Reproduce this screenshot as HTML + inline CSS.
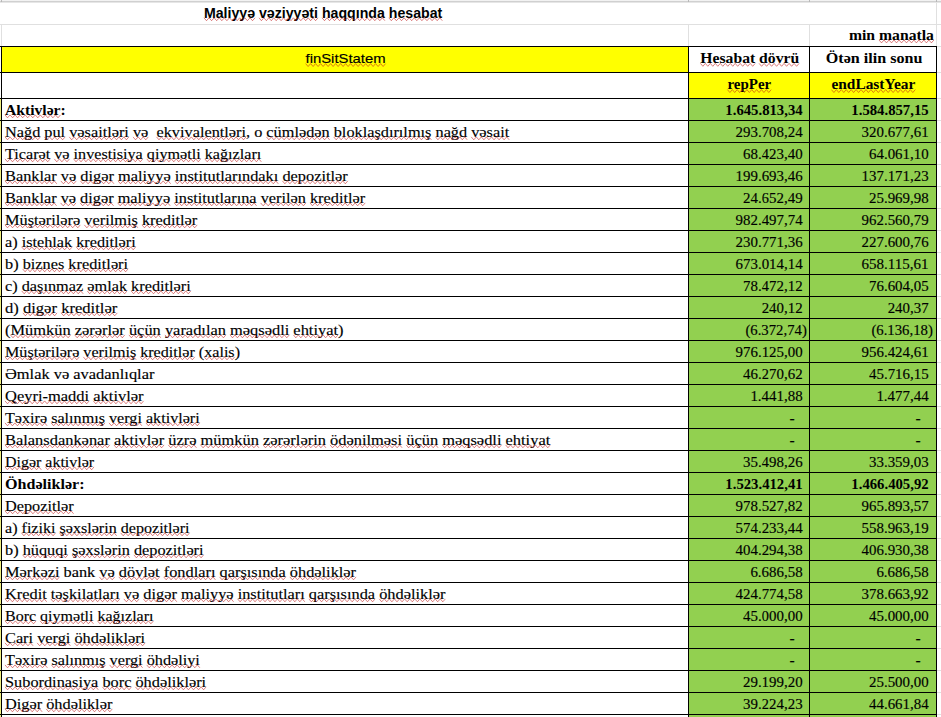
<!DOCTYPE html>
<html><head><meta charset="utf-8"><title>Maliyyə vəziyyəti haqqında hesabat</title>
<style>html,body{margin:0;padding:0;background:#fff;width:941px;height:717px;overflow:hidden} svg{display:block} text{shape-rendering:auto}</style>
</head><body>
<svg width="941" height="717" viewBox="0 0 941 717" shape-rendering="crispEdges"><rect x="0" y="0" width="941" height="1" fill="#f2f2f2"/><rect x="0" y="1" width="941" height="1" fill="#d0d0d0"/><rect x="0" y="2" width="941" height="1" fill="#e6e6e6"/><rect x="1" y="0" width="1" height="2" fill="#b8b8b8"/><rect x="688" y="0" width="1" height="2" fill="#b8b8b8"/><rect x="809" y="0" width="1" height="2" fill="#b8b8b8"/><rect x="936" y="0" width="1" height="2" fill="#b8b8b8"/><rect x="0" y="24" width="941" height="1" fill="#e0e0e0"/><rect x="1" y="25" width="1" height="21" fill="#e0e0e0"/><rect x="688" y="25" width="1" height="21" fill="#e0e0e0"/><rect x="809" y="25" width="1" height="21" fill="#e0e0e0"/><rect x="936" y="3" width="1" height="714" fill="#e0e0e0"/><rect x="937" y="46" width="4" height="1" fill="#e0e0e0"/><rect x="937" y="72" width="4" height="1" fill="#e0e0e0"/><rect x="937" y="98" width="4" height="1" fill="#e0e0e0"/><rect x="937" y="120" width="4" height="1" fill="#e0e0e0"/><rect x="937" y="142" width="4" height="1" fill="#e0e0e0"/><rect x="937" y="164" width="4" height="1" fill="#e0e0e0"/><rect x="937" y="186" width="4" height="1" fill="#e0e0e0"/><rect x="937" y="208" width="4" height="1" fill="#e0e0e0"/><rect x="937" y="230" width="4" height="1" fill="#e0e0e0"/><rect x="937" y="252" width="4" height="1" fill="#e0e0e0"/><rect x="937" y="274" width="4" height="1" fill="#e0e0e0"/><rect x="937" y="296" width="4" height="1" fill="#e0e0e0"/><rect x="937" y="318" width="4" height="1" fill="#e0e0e0"/><rect x="937" y="340" width="4" height="1" fill="#e0e0e0"/><rect x="937" y="362" width="4" height="1" fill="#e0e0e0"/><rect x="937" y="384" width="4" height="1" fill="#e0e0e0"/><rect x="937" y="406" width="4" height="1" fill="#e0e0e0"/><rect x="937" y="428" width="4" height="1" fill="#e0e0e0"/><rect x="937" y="450" width="4" height="1" fill="#e0e0e0"/><rect x="937" y="472" width="4" height="1" fill="#e0e0e0"/><rect x="937" y="494" width="4" height="1" fill="#e0e0e0"/><rect x="937" y="516" width="4" height="1" fill="#e0e0e0"/><rect x="937" y="538" width="4" height="1" fill="#e0e0e0"/><rect x="937" y="560" width="4" height="1" fill="#e0e0e0"/><rect x="937" y="582" width="4" height="1" fill="#e0e0e0"/><rect x="937" y="604" width="4" height="1" fill="#e0e0e0"/><rect x="937" y="626" width="4" height="1" fill="#e0e0e0"/><rect x="937" y="648" width="4" height="1" fill="#e0e0e0"/><rect x="937" y="670" width="4" height="1" fill="#e0e0e0"/><rect x="937" y="692" width="4" height="1" fill="#e0e0e0"/><rect x="937" y="714" width="4" height="1" fill="#e0e0e0"/><rect x="2" y="47" width="686" height="25" fill="#ffff00"/><rect x="689" y="73" width="120" height="25" fill="#ffff00"/><rect x="810" y="73" width="126" height="25" fill="#ffff00"/><rect x="689" y="99" width="120" height="618" fill="#92d050"/><rect x="810" y="99" width="126" height="618" fill="#92d050"/><rect x="0" y="99" width="1" height="618" fill="#f0f080"/><rect x="0" y="46" width="937" height="1" fill="#000"/><rect x="0" y="72" width="937" height="1" fill="#000"/><rect x="0" y="98" width="937" height="1" fill="#000"/><rect x="0" y="120" width="937" height="1" fill="#000"/><rect x="0" y="142" width="937" height="1" fill="#000"/><rect x="0" y="164" width="937" height="1" fill="#000"/><rect x="0" y="186" width="937" height="1" fill="#000"/><rect x="0" y="208" width="937" height="1" fill="#000"/><rect x="0" y="230" width="937" height="1" fill="#000"/><rect x="0" y="252" width="937" height="1" fill="#000"/><rect x="0" y="274" width="937" height="1" fill="#000"/><rect x="0" y="296" width="937" height="1" fill="#000"/><rect x="0" y="318" width="937" height="1" fill="#000"/><rect x="0" y="340" width="937" height="1" fill="#000"/><rect x="0" y="362" width="937" height="1" fill="#000"/><rect x="0" y="384" width="937" height="1" fill="#000"/><rect x="0" y="406" width="937" height="1" fill="#000"/><rect x="0" y="428" width="937" height="1" fill="#000"/><rect x="0" y="450" width="937" height="1" fill="#000"/><rect x="0" y="472" width="937" height="1" fill="#000"/><rect x="0" y="494" width="937" height="1" fill="#000"/><rect x="0" y="516" width="937" height="1" fill="#000"/><rect x="0" y="538" width="937" height="1" fill="#000"/><rect x="0" y="560" width="937" height="1" fill="#000"/><rect x="0" y="582" width="937" height="1" fill="#000"/><rect x="0" y="604" width="937" height="1" fill="#000"/><rect x="0" y="626" width="937" height="1" fill="#000"/><rect x="0" y="648" width="937" height="1" fill="#000"/><rect x="0" y="670" width="937" height="1" fill="#000"/><rect x="0" y="692" width="937" height="1" fill="#000"/><rect x="0" y="714" width="937" height="1" fill="#000"/><rect x="1" y="46" width="1" height="671" fill="#000"/><rect x="688" y="46" width="1" height="671" fill="#000"/><rect x="809" y="46" width="1" height="671" fill="#000"/><rect x="936" y="46" width="1" height="671" fill="#000"/><text id="h0" x="203.92" y="17.50" font-family='"Liberation Sans",sans-serif' font-size="14.0" font-weight="bold" textLength="238.36" lengthAdjust="spacingAndGlyphs" fill="#000" xml:space="preserve">Maliyyə vəziyyəti haqqında hesabat</text><text id="h1" x="848.94" y="39.70" font-family='"Liberation Serif",serif' font-size="14.0" font-weight="bold" textLength="84.98" lengthAdjust="spacingAndGlyphs" fill="#000" xml:space="preserve">min manatla</text><text id="h2" x="305.56" y="63.30" font-family='"Liberation Sans",sans-serif' font-size="13.5" textLength="80.00" lengthAdjust="spacingAndGlyphs" fill="#000" stroke="#000" stroke-width="0.15" xml:space="preserve">finSitStatem</text><text id="h3" x="700.36" y="63.10" font-family='"Liberation Serif",serif' font-size="14.0" font-weight="bold" textLength="98.78" lengthAdjust="spacingAndGlyphs" fill="#000" xml:space="preserve">Hesabat dövrü</text><text id="h4" x="825.84" y="63.20" font-family='"Liberation Serif",serif' font-size="14.0" font-weight="bold" textLength="96.66" lengthAdjust="spacingAndGlyphs" fill="#000" xml:space="preserve">Ötən ilin sonu</text><text id="h5" x="727.42" y="89.30" font-family='"Liberation Serif",serif' font-size="14.0" font-weight="bold" textLength="43.80" lengthAdjust="spacingAndGlyphs" fill="#000" xml:space="preserve">repPer</text><text id="h6" x="831.44" y="89.30" font-family='"Liberation Serif",serif' font-size="14.0" font-weight="bold" textLength="83.84" lengthAdjust="spacingAndGlyphs" fill="#000" xml:space="preserve">endLastYear</text><text id="l0" x="5.00" y="114.60" font-family='"Liberation Serif",serif' font-size="15.0" font-weight="bold" textLength="60.71" lengthAdjust="spacingAndGlyphs" fill="#000" xml:space="preserve">Aktivlər:</text><text x="802.60" y="114.60" font-family='"Liberation Serif",serif' font-size="14.0" font-weight="bold" text-anchor="end" textLength="77.25" lengthAdjust="spacingAndGlyphs" fill="#000" xml:space="preserve">1.645.813,34</text><text x="928.60" y="114.60" font-family='"Liberation Serif",serif' font-size="14.0" font-weight="bold" text-anchor="end" textLength="77.25" lengthAdjust="spacingAndGlyphs" fill="#000" xml:space="preserve">1.584.857,15</text><text id="l1" x="5.00" y="136.60" font-family='"Liberation Serif",serif' font-size="15.0" textLength="504.21" lengthAdjust="spacingAndGlyphs" fill="#000" stroke="#000" stroke-width="0.15" xml:space="preserve">Nağd pul vəsaitləri və  ekvivalentləri, o cümlədən bloklaşdırılmış nağd vəsait</text><text x="802.60" y="136.60" font-family='"Liberation Serif",serif' font-size="14.0" text-anchor="end" textLength="67.00" lengthAdjust="spacingAndGlyphs" fill="#000" stroke="#000" stroke-width="0.15" xml:space="preserve">293.708,24</text><text x="928.60" y="136.60" font-family='"Liberation Serif",serif' font-size="14.0" text-anchor="end" textLength="67.00" lengthAdjust="spacingAndGlyphs" fill="#000" stroke="#000" stroke-width="0.15" xml:space="preserve">320.677,61</text><text id="l2" x="5.00" y="158.60" font-family='"Liberation Serif",serif' font-size="15.0" textLength="256.34" lengthAdjust="spacingAndGlyphs" fill="#000" stroke="#000" stroke-width="0.15" xml:space="preserve">Ticarət və investisiya qiymətli kağızları</text><text x="802.60" y="158.60" font-family='"Liberation Serif",serif' font-size="14.0" text-anchor="end" textLength="59.60" lengthAdjust="spacingAndGlyphs" fill="#000" stroke="#000" stroke-width="0.15" xml:space="preserve">68.423,40</text><text x="928.60" y="158.60" font-family='"Liberation Serif",serif' font-size="14.0" text-anchor="end" textLength="59.60" lengthAdjust="spacingAndGlyphs" fill="#000" stroke="#000" stroke-width="0.15" xml:space="preserve">64.061,10</text><text id="l3" x="5.00" y="180.60" font-family='"Liberation Serif",serif' font-size="15.0" textLength="342.77" lengthAdjust="spacingAndGlyphs" fill="#000" stroke="#000" stroke-width="0.15" xml:space="preserve">Banklar və digər maliyyə institutlarındakı depozitlər</text><text x="802.60" y="180.60" font-family='"Liberation Serif",serif' font-size="14.0" text-anchor="end" textLength="67.00" lengthAdjust="spacingAndGlyphs" fill="#000" stroke="#000" stroke-width="0.15" xml:space="preserve">199.693,46</text><text x="928.60" y="180.60" font-family='"Liberation Serif",serif' font-size="14.0" text-anchor="end" textLength="67.00" lengthAdjust="spacingAndGlyphs" fill="#000" stroke="#000" stroke-width="0.15" xml:space="preserve">137.171,23</text><text id="l4" x="5.00" y="202.60" font-family='"Liberation Serif",serif' font-size="15.0" textLength="360.17" lengthAdjust="spacingAndGlyphs" fill="#000" stroke="#000" stroke-width="0.15" xml:space="preserve">Banklar və digər maliyyə institutlarına verilən kreditlər</text><text x="802.60" y="202.60" font-family='"Liberation Serif",serif' font-size="14.0" text-anchor="end" textLength="59.60" lengthAdjust="spacingAndGlyphs" fill="#000" stroke="#000" stroke-width="0.15" xml:space="preserve">24.652,49</text><text x="928.60" y="202.60" font-family='"Liberation Serif",serif' font-size="14.0" text-anchor="end" textLength="59.60" lengthAdjust="spacingAndGlyphs" fill="#000" stroke="#000" stroke-width="0.15" xml:space="preserve">25.969,98</text><text id="l5" x="5.00" y="224.60" font-family='"Liberation Serif",serif' font-size="15.0" textLength="192.25" lengthAdjust="spacingAndGlyphs" fill="#000" stroke="#000" stroke-width="0.15" xml:space="preserve">Müştərilərə verilmiş kreditlər</text><text x="802.60" y="224.60" font-family='"Liberation Serif",serif' font-size="14.0" text-anchor="end" textLength="67.00" lengthAdjust="spacingAndGlyphs" fill="#000" stroke="#000" stroke-width="0.15" xml:space="preserve">982.497,74</text><text x="928.60" y="224.60" font-family='"Liberation Serif",serif' font-size="14.0" text-anchor="end" textLength="67.00" lengthAdjust="spacingAndGlyphs" fill="#000" stroke="#000" stroke-width="0.15" xml:space="preserve">962.560,79</text><text id="l6" x="5.00" y="246.60" font-family='"Liberation Serif",serif' font-size="15.0" textLength="130.72" lengthAdjust="spacingAndGlyphs" fill="#000" stroke="#000" stroke-width="0.15" xml:space="preserve">a) istehlak kreditləri</text><text x="802.60" y="246.60" font-family='"Liberation Serif",serif' font-size="14.0" text-anchor="end" textLength="67.00" lengthAdjust="spacingAndGlyphs" fill="#000" stroke="#000" stroke-width="0.15" xml:space="preserve">230.771,36</text><text x="928.60" y="246.60" font-family='"Liberation Serif",serif' font-size="14.0" text-anchor="end" textLength="67.00" lengthAdjust="spacingAndGlyphs" fill="#000" stroke="#000" stroke-width="0.15" xml:space="preserve">227.600,76</text><text id="l7" x="5.00" y="268.60" font-family='"Liberation Serif",serif' font-size="15.0" textLength="123.07" lengthAdjust="spacingAndGlyphs" fill="#000" stroke="#000" stroke-width="0.15" xml:space="preserve">b) biznes kreditləri</text><text x="802.60" y="268.60" font-family='"Liberation Serif",serif' font-size="14.0" text-anchor="end" textLength="67.00" lengthAdjust="spacingAndGlyphs" fill="#000" stroke="#000" stroke-width="0.15" xml:space="preserve">673.014,14</text><text x="928.60" y="268.60" font-family='"Liberation Serif",serif' font-size="14.0" text-anchor="end" textLength="67.00" lengthAdjust="spacingAndGlyphs" fill="#000" stroke="#000" stroke-width="0.15" xml:space="preserve">658.115,61</text><text id="l8" x="5.00" y="290.60" font-family='"Liberation Serif",serif' font-size="15.0" textLength="185.78" lengthAdjust="spacingAndGlyphs" fill="#000" stroke="#000" stroke-width="0.15" xml:space="preserve">c) daşınmaz əmlak kreditləri</text><text x="802.60" y="290.60" font-family='"Liberation Serif",serif' font-size="14.0" text-anchor="end" textLength="59.60" lengthAdjust="spacingAndGlyphs" fill="#000" stroke="#000" stroke-width="0.15" xml:space="preserve">78.472,12</text><text x="928.60" y="290.60" font-family='"Liberation Serif",serif' font-size="14.0" text-anchor="end" textLength="59.60" lengthAdjust="spacingAndGlyphs" fill="#000" stroke="#000" stroke-width="0.15" xml:space="preserve">76.604,05</text><text id="l9" x="5.00" y="312.60" font-family='"Liberation Serif",serif' font-size="15.0" textLength="112.27" lengthAdjust="spacingAndGlyphs" fill="#000" stroke="#000" stroke-width="0.15" xml:space="preserve">d) digər kreditlər</text><text x="802.60" y="312.60" font-family='"Liberation Serif",serif' font-size="14.0" text-anchor="end" textLength="40.90" lengthAdjust="spacingAndGlyphs" fill="#000" stroke="#000" stroke-width="0.15" xml:space="preserve">240,12</text><text x="928.60" y="312.60" font-family='"Liberation Serif",serif' font-size="14.0" text-anchor="end" textLength="40.90" lengthAdjust="spacingAndGlyphs" fill="#000" stroke="#000" stroke-width="0.15" xml:space="preserve">240,37</text><text id="l10" x="5.00" y="334.60" font-family='"Liberation Serif",serif' font-size="15.0" textLength="338.48" lengthAdjust="spacingAndGlyphs" fill="#000" stroke="#000" stroke-width="0.15" xml:space="preserve">(Mümkün zərərlər üçün yaradılan məqsədli ehtiyat)</text><text x="806.80" y="334.60" font-family='"Liberation Serif",serif' font-size="14.0" text-anchor="end" textLength="61.40" lengthAdjust="spacingAndGlyphs" fill="#000" stroke="#000" stroke-width="0.15" xml:space="preserve">(6.372,74)</text><text x="932.80" y="334.60" font-family='"Liberation Serif",serif' font-size="14.0" text-anchor="end" textLength="61.40" lengthAdjust="spacingAndGlyphs" fill="#000" stroke="#000" stroke-width="0.15" xml:space="preserve">(6.136,18)</text><text id="l11" x="5.00" y="356.60" font-family='"Liberation Serif",serif' font-size="15.0" textLength="235.02" lengthAdjust="spacingAndGlyphs" fill="#000" stroke="#000" stroke-width="0.15" xml:space="preserve">Müştərilərə verilmiş kreditlər (xalis)</text><text x="802.60" y="356.60" font-family='"Liberation Serif",serif' font-size="14.0" text-anchor="end" textLength="67.00" lengthAdjust="spacingAndGlyphs" fill="#000" stroke="#000" stroke-width="0.15" xml:space="preserve">976.125,00</text><text x="928.60" y="356.60" font-family='"Liberation Serif",serif' font-size="14.0" text-anchor="end" textLength="67.00" lengthAdjust="spacingAndGlyphs" fill="#000" stroke="#000" stroke-width="0.15" xml:space="preserve">956.424,61</text><text id="l12" x="5.00" y="378.60" font-family='"Liberation Serif",serif' font-size="15.0" textLength="149.40" lengthAdjust="spacingAndGlyphs" fill="#000" stroke="#000" stroke-width="0.15" xml:space="preserve">Əmlak və avadanlıqlar</text><text x="802.60" y="378.60" font-family='"Liberation Serif",serif' font-size="14.0" text-anchor="end" textLength="59.60" lengthAdjust="spacingAndGlyphs" fill="#000" stroke="#000" stroke-width="0.15" xml:space="preserve">46.270,62</text><text x="928.60" y="378.60" font-family='"Liberation Serif",serif' font-size="14.0" text-anchor="end" textLength="59.60" lengthAdjust="spacingAndGlyphs" fill="#000" stroke="#000" stroke-width="0.15" xml:space="preserve">45.716,15</text><text id="l13" x="5.00" y="400.60" font-family='"Liberation Serif",serif' font-size="15.0" textLength="138.60" lengthAdjust="spacingAndGlyphs" fill="#000" stroke="#000" stroke-width="0.15" xml:space="preserve">Qeyri-maddi aktivlər</text><text x="802.60" y="400.60" font-family='"Liberation Serif",serif' font-size="14.0" text-anchor="end" textLength="52.20" lengthAdjust="spacingAndGlyphs" fill="#000" stroke="#000" stroke-width="0.15" xml:space="preserve">1.441,88</text><text x="928.60" y="400.60" font-family='"Liberation Serif",serif' font-size="14.0" text-anchor="end" textLength="52.20" lengthAdjust="spacingAndGlyphs" fill="#000" stroke="#000" stroke-width="0.15" xml:space="preserve">1.477,44</text><text id="l14" x="5.00" y="422.60" font-family='"Liberation Serif",serif' font-size="15.0" textLength="194.74" lengthAdjust="spacingAndGlyphs" fill="#000" stroke="#000" stroke-width="0.15" xml:space="preserve">Təxirə salınmış vergi aktivləri</text><text x="794.60" y="423.30" font-family='"Liberation Serif",serif' font-size="14.0" text-anchor="end" textLength="5.20" lengthAdjust="spacingAndGlyphs" fill="#000" stroke="#000" stroke-width="0.15" xml:space="preserve">-</text><text x="920.60" y="423.30" font-family='"Liberation Serif",serif' font-size="14.0" text-anchor="end" textLength="5.20" lengthAdjust="spacingAndGlyphs" fill="#000" stroke="#000" stroke-width="0.15" xml:space="preserve">-</text><text id="l15" x="5.00" y="444.60" font-family='"Liberation Serif",serif' font-size="15.0" textLength="545.26" lengthAdjust="spacingAndGlyphs" fill="#000" stroke="#000" stroke-width="0.15" xml:space="preserve">Balansdankənar aktivlər üzrə mümkün zərərlərin ödənilməsi üçün məqsədli ehtiyat</text><text x="794.60" y="445.30" font-family='"Liberation Serif",serif' font-size="14.0" text-anchor="end" textLength="5.20" lengthAdjust="spacingAndGlyphs" fill="#000" stroke="#000" stroke-width="0.15" xml:space="preserve">-</text><text x="920.60" y="445.30" font-family='"Liberation Serif",serif' font-size="14.0" text-anchor="end" textLength="5.20" lengthAdjust="spacingAndGlyphs" fill="#000" stroke="#000" stroke-width="0.15" xml:space="preserve">-</text><text id="l16" x="5.00" y="466.60" font-family='"Liberation Serif",serif' font-size="15.0" textLength="89.05" lengthAdjust="spacingAndGlyphs" fill="#000" stroke="#000" stroke-width="0.15" xml:space="preserve">Digər aktivlər</text><text x="802.60" y="466.60" font-family='"Liberation Serif",serif' font-size="14.0" text-anchor="end" textLength="59.60" lengthAdjust="spacingAndGlyphs" fill="#000" stroke="#000" stroke-width="0.15" xml:space="preserve">35.498,26</text><text x="928.60" y="466.60" font-family='"Liberation Serif",serif' font-size="14.0" text-anchor="end" textLength="59.60" lengthAdjust="spacingAndGlyphs" fill="#000" stroke="#000" stroke-width="0.15" xml:space="preserve">33.359,03</text><text id="l17" x="5.00" y="488.60" font-family='"Liberation Serif",serif' font-size="15.0" font-weight="bold" textLength="79.56" lengthAdjust="spacingAndGlyphs" fill="#000" xml:space="preserve">Öhdəliklər:</text><text x="802.60" y="488.60" font-family='"Liberation Serif",serif' font-size="14.0" font-weight="bold" text-anchor="end" textLength="77.25" lengthAdjust="spacingAndGlyphs" fill="#000" xml:space="preserve">1.523.412,41</text><text x="928.60" y="488.60" font-family='"Liberation Serif",serif' font-size="14.0" font-weight="bold" text-anchor="end" textLength="77.25" lengthAdjust="spacingAndGlyphs" fill="#000" xml:space="preserve">1.466.405,92</text><text id="l18" x="5.00" y="510.60" font-family='"Liberation Serif",serif' font-size="15.0" textLength="68.60" lengthAdjust="spacingAndGlyphs" fill="#000" stroke="#000" stroke-width="0.15" xml:space="preserve">Depozitlər</text><text x="802.60" y="510.60" font-family='"Liberation Serif",serif' font-size="14.0" text-anchor="end" textLength="67.00" lengthAdjust="spacingAndGlyphs" fill="#000" stroke="#000" stroke-width="0.15" xml:space="preserve">978.527,82</text><text x="928.60" y="510.60" font-family='"Liberation Serif",serif' font-size="14.0" text-anchor="end" textLength="67.00" lengthAdjust="spacingAndGlyphs" fill="#000" stroke="#000" stroke-width="0.15" xml:space="preserve">965.893,57</text><text id="l19" x="5.00" y="532.60" font-family='"Liberation Serif",serif' font-size="15.0" textLength="184.52" lengthAdjust="spacingAndGlyphs" fill="#000" stroke="#000" stroke-width="0.15" xml:space="preserve">a) fiziki şəxslərin depozitləri</text><text x="802.60" y="532.60" font-family='"Liberation Serif",serif' font-size="14.0" text-anchor="end" textLength="67.00" lengthAdjust="spacingAndGlyphs" fill="#000" stroke="#000" stroke-width="0.15" xml:space="preserve">574.233,44</text><text x="928.60" y="532.60" font-family='"Liberation Serif",serif' font-size="14.0" text-anchor="end" textLength="67.00" lengthAdjust="spacingAndGlyphs" fill="#000" stroke="#000" stroke-width="0.15" xml:space="preserve">558.963,19</text><text id="l20" x="5.00" y="554.60" font-family='"Liberation Serif",serif' font-size="15.0" textLength="198.56" lengthAdjust="spacingAndGlyphs" fill="#000" stroke="#000" stroke-width="0.15" xml:space="preserve">b) hüquqi şəxslərin depozitləri</text><text x="802.60" y="554.60" font-family='"Liberation Serif",serif' font-size="14.0" text-anchor="end" textLength="67.00" lengthAdjust="spacingAndGlyphs" fill="#000" stroke="#000" stroke-width="0.15" xml:space="preserve">404.294,38</text><text x="928.60" y="554.60" font-family='"Liberation Serif",serif' font-size="14.0" text-anchor="end" textLength="67.00" lengthAdjust="spacingAndGlyphs" fill="#000" stroke="#000" stroke-width="0.15" xml:space="preserve">406.930,38</text><text id="l21" x="5.00" y="576.60" font-family='"Liberation Serif",serif' font-size="15.0" textLength="351.06" lengthAdjust="spacingAndGlyphs" fill="#000" stroke="#000" stroke-width="0.15" xml:space="preserve">Mərkəzi bank və dövlət fondları qarşısında öhdəliklər</text><text x="802.60" y="576.60" font-family='"Liberation Serif",serif' font-size="14.0" text-anchor="end" textLength="52.20" lengthAdjust="spacingAndGlyphs" fill="#000" stroke="#000" stroke-width="0.15" xml:space="preserve">6.686,58</text><text x="928.60" y="576.60" font-family='"Liberation Serif",serif' font-size="14.0" text-anchor="end" textLength="52.20" lengthAdjust="spacingAndGlyphs" fill="#000" stroke="#000" stroke-width="0.15" xml:space="preserve">6.686,58</text><text id="l22" x="5.00" y="598.60" font-family='"Liberation Serif",serif' font-size="15.0" textLength="440.39" lengthAdjust="spacingAndGlyphs" fill="#000" stroke="#000" stroke-width="0.15" xml:space="preserve">Kredit təşkilatları və digər maliyyə institutları qarşısında öhdəliklər</text><text x="802.60" y="598.60" font-family='"Liberation Serif",serif' font-size="14.0" text-anchor="end" textLength="67.00" lengthAdjust="spacingAndGlyphs" fill="#000" stroke="#000" stroke-width="0.15" xml:space="preserve">424.774,58</text><text x="928.60" y="598.60" font-family='"Liberation Serif",serif' font-size="14.0" text-anchor="end" textLength="67.00" lengthAdjust="spacingAndGlyphs" fill="#000" stroke="#000" stroke-width="0.15" xml:space="preserve">378.663,92</text><text id="l23" x="5.00" y="620.60" font-family='"Liberation Serif",serif' font-size="15.0" textLength="148.48" lengthAdjust="spacingAndGlyphs" fill="#000" stroke="#000" stroke-width="0.15" xml:space="preserve">Borc qiymətli kağızları</text><text x="802.60" y="620.60" font-family='"Liberation Serif",serif' font-size="14.0" text-anchor="end" textLength="59.60" lengthAdjust="spacingAndGlyphs" fill="#000" stroke="#000" stroke-width="0.15" xml:space="preserve">45.000,00</text><text x="928.60" y="620.60" font-family='"Liberation Serif",serif' font-size="14.0" text-anchor="end" textLength="59.60" lengthAdjust="spacingAndGlyphs" fill="#000" stroke="#000" stroke-width="0.15" xml:space="preserve">45.000,00</text><text id="l24" x="5.00" y="642.60" font-family='"Liberation Serif",serif' font-size="15.0" textLength="140.13" lengthAdjust="spacingAndGlyphs" fill="#000" stroke="#000" stroke-width="0.15" xml:space="preserve">Cari vergi öhdəlikləri</text><text x="794.60" y="643.30" font-family='"Liberation Serif",serif' font-size="14.0" text-anchor="end" textLength="5.20" lengthAdjust="spacingAndGlyphs" fill="#000" stroke="#000" stroke-width="0.15" xml:space="preserve">-</text><text x="920.60" y="643.30" font-family='"Liberation Serif",serif' font-size="14.0" text-anchor="end" textLength="5.20" lengthAdjust="spacingAndGlyphs" fill="#000" stroke="#000" stroke-width="0.15" xml:space="preserve">-</text><text id="l25" x="5.00" y="664.60" font-family='"Liberation Serif",serif' font-size="15.0" textLength="194.86" lengthAdjust="spacingAndGlyphs" fill="#000" stroke="#000" stroke-width="0.15" xml:space="preserve">Təxirə salınmış vergi öhdəliyi</text><text x="794.60" y="665.30" font-family='"Liberation Serif",serif' font-size="14.0" text-anchor="end" textLength="5.20" lengthAdjust="spacingAndGlyphs" fill="#000" stroke="#000" stroke-width="0.15" xml:space="preserve">-</text><text x="920.60" y="665.30" font-family='"Liberation Serif",serif' font-size="14.0" text-anchor="end" textLength="5.20" lengthAdjust="spacingAndGlyphs" fill="#000" stroke="#000" stroke-width="0.15" xml:space="preserve">-</text><text id="l26" x="5.00" y="686.60" font-family='"Liberation Serif",serif' font-size="15.0" textLength="201.12" lengthAdjust="spacingAndGlyphs" fill="#000" stroke="#000" stroke-width="0.15" xml:space="preserve">Subordinasiya borc öhdəlikləri</text><text x="802.60" y="686.60" font-family='"Liberation Serif",serif' font-size="14.0" text-anchor="end" textLength="59.60" lengthAdjust="spacingAndGlyphs" fill="#000" stroke="#000" stroke-width="0.15" xml:space="preserve">29.199,20</text><text x="928.60" y="686.60" font-family='"Liberation Serif",serif' font-size="14.0" text-anchor="end" textLength="59.60" lengthAdjust="spacingAndGlyphs" fill="#000" stroke="#000" stroke-width="0.15" xml:space="preserve">25.500,00</text><text id="l27" x="5.00" y="708.60" font-family='"Liberation Serif",serif' font-size="15.0" textLength="107.32" lengthAdjust="spacingAndGlyphs" fill="#000" stroke="#000" stroke-width="0.15" xml:space="preserve">Digər öhdəliklər</text><text x="802.60" y="708.60" font-family='"Liberation Serif",serif' font-size="14.0" text-anchor="end" textLength="59.60" lengthAdjust="spacingAndGlyphs" fill="#000" stroke="#000" stroke-width="0.15" xml:space="preserve">39.224,23</text><text x="928.60" y="708.60" font-family='"Liberation Serif",serif' font-size="14.0" text-anchor="end" textLength="59.60" lengthAdjust="spacingAndGlyphs" fill="#000" stroke="#000" stroke-width="0.15" xml:space="preserve">44.661,84</text><g fill="none" stroke="#c01818" stroke-width="0.9" stroke-opacity="0.6" shape-rendering="auto"><polyline points="203.9,17.8 206.5,20.7 209.0,17.8 211.6,20.7 214.1,17.8 216.7,20.7 219.3,17.8 221.8,20.7 224.4,17.8 226.9,20.7 229.5,17.8 232.1,20.7 234.6,17.8 237.2,20.7 239.7,17.8 242.3,20.7 244.8,17.8 247.4,20.7 250.0,17.8 252.5,20.7 255.1,17.8"/><polyline points="259.0,17.8 261.4,20.7 263.9,17.8 266.4,20.7 268.8,17.8 271.3,20.7 273.7,17.8 276.2,20.7 278.7,17.8 281.1,20.7 283.6,17.8 286.0,20.7 288.5,17.8 291.0,20.7 293.4,17.8 295.9,20.7 298.3,17.8 300.8,20.7 303.3,17.8 305.7,20.7 308.2,17.8 310.6,20.7 313.1,17.8 315.6,20.7 318.0,17.8"/><polyline points="321.9,17.8 324.5,20.7 327.0,17.8 329.5,20.7 332.0,17.8 334.5,20.7 337.0,17.8 339.6,20.7 342.1,17.8 344.6,20.7 347.1,17.8 349.6,20.7 352.1,17.8 354.7,20.7 357.2,17.8 359.7,20.7 362.2,17.8 364.7,20.7 367.2,17.8 369.8,20.7 372.3,17.8 374.8,20.7 377.3,17.8 379.8,20.7 382.3,17.8 384.9,20.7"/><polyline points="388.8,17.8 391.3,20.7 393.9,17.8 396.4,20.7 399.0,17.8 401.5,20.7 404.1,17.8 406.6,20.7 409.2,17.8 411.7,20.7 414.3,17.8 416.8,20.7 419.4,17.8 421.9,20.7 424.4,17.8 427.0,20.7 429.5,17.8 432.1,20.7 434.6,17.8 437.2,20.7 439.7,17.8 442.3,20.7"/><polyline points="879.0,40.0 881.5,42.9 884.0,40.0 886.5,42.9 889.0,40.0 891.5,42.9 894.0,40.0 896.5,42.9 899.0,40.0 901.5,42.9 904.0,40.0 906.5,42.9 909.0,40.0 911.5,42.9 913.9,40.0 916.4,42.9 918.9,40.0 921.4,42.9 923.9,40.0 926.4,42.9 928.9,40.0 931.4,42.9 933.9,40.0"/><polyline points="305.6,63.6 308.1,66.5 310.6,63.6 313.1,66.5 315.6,63.6 318.1,66.5 320.6,63.6 323.1,66.5 325.6,63.6 328.1,66.5 330.6,63.6 333.1,66.5 335.6,63.6 338.1,66.5 340.6,63.6 343.1,66.5 345.6,63.6 348.1,66.5 350.6,63.6 353.1,66.5 355.6,63.6 358.1,66.5 360.6,63.6 363.1,66.5 365.6,63.6 368.1,66.5 370.6,63.6 373.1,66.5 375.6,63.6 378.1,66.5 380.6,63.6 383.1,66.5 385.6,63.6"/><polyline points="700.4,63.4 702.9,66.3 705.3,63.4 707.8,66.3 710.3,63.4 712.8,66.3 715.3,63.4 717.8,66.3 720.3,63.4 722.8,66.3 725.3,63.4 727.8,66.3 730.3,63.4 732.8,66.3 735.2,63.4 737.7,66.3 740.2,63.4 742.7,66.3 745.2,63.4 747.7,66.3 750.2,63.4 752.7,66.3 755.2,63.4"/><polyline points="759.1,63.4 761.6,66.3 764.1,63.4 766.6,66.3 769.1,63.4 771.6,66.3 774.1,63.4 776.6,66.3 779.1,63.4 781.6,66.3 784.1,63.4 786.6,66.3 789.1,63.4 791.6,66.3 794.1,63.4 796.6,66.3 799.1,63.4"/><polyline points="727.4,89.6 729.9,92.5 732.3,89.6 734.7,92.5 737.2,89.6 739.6,92.5 742.0,89.6 744.5,92.5 746.9,89.6 749.3,92.5 751.8,89.6 754.2,92.5 756.6,89.6 759.1,92.5 761.5,89.6 763.9,92.5 766.4,89.6 768.8,92.5 771.2,89.6"/><polyline points="831.4,89.6 833.9,92.5 836.4,89.6 838.8,92.5 841.3,89.6 843.8,92.5 846.2,89.6 848.7,92.5 851.2,89.6 853.6,92.5 856.1,89.6 858.6,92.5 861.0,89.6 863.5,92.5 866.0,89.6 868.4,92.5 870.9,89.6 873.4,92.5 875.8,89.6 878.3,92.5 880.8,89.6 883.2,92.5 885.7,89.6 888.2,92.5 890.6,89.6 893.1,92.5 895.6,89.6 898.0,92.5 900.5,89.6 903.0,92.5 905.4,89.6 907.9,92.5 910.3,89.6 912.8,92.5 915.3,89.6"/><polyline points="5.0,114.9 7.5,117.8 10.0,114.9 12.6,117.8 15.1,114.9 17.6,117.8 20.1,114.9 22.7,117.8 25.2,114.9 27.7,117.8 30.2,114.9 32.8,117.8 35.3,114.9 37.8,117.8 40.3,114.9 42.8,117.8 45.4,114.9 47.9,117.8 50.4,114.9 52.9,117.8 55.5,114.9 58.0,117.8 60.5,114.9"/><polyline points="5.0,136.9 7.5,139.8 10.0,136.9 12.6,139.8 15.1,136.9 17.6,139.8 20.1,136.9 22.6,139.8 25.2,136.9 27.7,139.8 30.2,136.9 32.7,139.8 35.2,136.9 37.8,139.8 40.3,136.9"/><polyline points="44.3,136.9 46.9,139.8 49.5,136.9 52.1,139.8 54.7,136.9 57.3,139.8 60.0,136.9 62.6,139.8 65.2,136.9"/><polyline points="69.2,136.9 71.7,139.8 74.2,136.9 76.7,139.8 79.2,136.9 81.7,139.8 84.1,136.9 86.6,139.8 89.1,136.9 91.6,139.8 94.1,136.9 96.6,139.8 99.1,136.9 101.6,139.8 104.0,136.9 106.5,139.8 109.0,136.9 111.5,139.8 114.0,136.9 116.5,139.8 119.0,136.9 121.4,139.8 123.9,136.9 126.4,139.8 128.9,136.9"/><polyline points="133.0,136.9 135.5,139.8 138.1,136.9 140.7,139.8 143.2,136.9 145.8,139.8 148.3,136.9"/><polyline points="156.5,136.9 159.0,139.8 161.4,136.9 163.9,139.8 166.4,136.9 168.9,139.8 171.4,136.9 173.9,139.8 176.4,136.9 178.9,139.8 181.3,136.9 183.8,139.8 186.3,136.9 188.8,139.8 191.3,136.9 193.8,139.8 196.3,136.9 198.8,139.8 201.2,136.9 203.7,139.8 206.2,136.9 208.7,139.8 211.2,136.9 213.7,139.8 216.2,136.9 218.7,139.8 221.1,136.9 223.6,139.8 226.1,136.9 228.6,139.8 231.1,136.9 233.6,139.8 236.1,136.9 238.5,139.8 241.0,136.9 243.5,139.8 246.0,136.9"/><polyline points="266.4,136.9 268.9,139.8 271.4,136.9 273.9,139.8 276.5,136.9 279.0,139.8 281.5,136.9 284.1,139.8 286.6,136.9 289.1,139.8 291.7,136.9 294.2,139.8 296.7,136.9 299.3,139.8 301.8,136.9 304.3,139.8 306.9,136.9 309.4,139.8 311.9,136.9 314.5,139.8 317.0,136.9 319.5,139.8 322.1,136.9 324.6,139.8 327.1,136.9 329.6,139.8"/><polyline points="333.7,136.9 336.2,139.8 338.7,136.9 341.2,139.8 343.7,136.9 346.2,139.8 348.8,136.9 351.3,139.8 353.8,136.9 356.3,139.8 358.8,136.9 361.3,139.8 363.8,136.9 366.3,139.8 368.8,136.9 371.3,139.8 373.8,136.9 376.3,139.8 378.8,136.9 381.3,139.8 383.8,136.9 386.3,139.8 388.8,136.9 391.3,139.8 393.8,136.9 396.3,139.8 398.9,136.9 401.4,139.8 403.9,136.9 406.4,139.8 408.9,136.9 411.4,139.8 413.9,136.9 416.4,139.8 418.9,136.9 421.4,139.8 423.9,136.9 426.4,139.8 428.9,136.9 431.4,139.8"/><polyline points="435.5,136.9 437.9,139.8 440.4,136.9 442.8,139.8 445.2,136.9 447.7,139.8 450.1,136.9 452.5,139.8 455.0,136.9 457.4,139.8 459.9,136.9 462.3,139.8 464.7,136.9 467.2,139.8"/><polyline points="471.2,136.9 473.8,139.8 476.3,136.9 478.8,139.8 481.4,136.9 483.9,139.8 486.4,136.9 488.9,139.8 491.5,136.9 494.0,139.8 496.5,136.9 499.1,139.8 501.6,136.9 504.1,139.8 506.7,136.9 509.2,139.8"/><polyline points="5.0,158.9 7.5,161.8 10.0,158.9 12.5,161.8 15.1,158.9 17.6,161.8 20.1,158.9 22.6,161.8 25.1,158.9 27.6,161.8 30.1,158.9 32.6,161.8 35.2,158.9 37.7,161.8 40.2,158.9 42.7,161.8 45.2,158.9 47.7,161.8 50.2,158.9"/><polyline points="54.3,158.9 56.8,161.8 59.4,158.9 61.9,161.8 64.4,158.9 67.0,161.8 69.5,158.9"/><polyline points="73.6,158.9 76.0,161.8 78.5,158.9 81.0,161.8 83.5,158.9 85.9,161.8 88.4,158.9 90.9,161.8 93.3,158.9 95.8,161.8 98.3,158.9 100.8,161.8 103.2,158.9 105.7,161.8 108.2,158.9 110.6,161.8 113.1,158.9 115.6,161.8 118.0,158.9 120.5,161.8 123.0,158.9 125.5,161.8 127.9,158.9 130.4,161.8 132.9,158.9 135.3,161.8 137.8,158.9 140.3,161.8 142.8,158.9"/><polyline points="146.8,158.9 149.2,161.8 151.7,158.9 154.1,161.8 156.6,158.9 159.0,161.8 161.5,158.9 163.9,161.8 166.4,158.9 168.9,161.8 171.3,158.9 173.8,161.8 176.2,158.9 178.7,161.8 181.1,158.9 183.6,161.8 186.0,158.9 188.5,161.8 190.9,158.9 193.4,161.8 195.8,158.9 198.3,161.8 200.7,158.9"/><polyline points="204.8,158.9 207.2,161.8 209.7,158.9 212.1,161.8 214.6,158.9 217.1,161.8 219.5,158.9 222.0,161.8 224.4,158.9 226.9,161.8 229.4,158.9 231.8,161.8 234.3,158.9 236.7,161.8 239.2,158.9 241.7,161.8 244.1,158.9 246.6,161.8 249.0,158.9 251.5,161.8 254.0,158.9 256.4,161.8 258.9,158.9 261.3,161.8"/><polyline points="5.0,180.9 7.5,183.8 9.9,180.9 12.4,183.8 14.9,180.9 17.3,183.8 19.8,180.9 22.2,183.8 24.7,180.9 27.2,183.8 29.6,180.9 32.1,183.8 34.6,180.9 37.0,183.8 39.5,180.9 42.0,183.8 44.4,180.9 46.9,183.8 49.4,180.9 51.8,183.8 54.3,180.9 56.8,183.8"/><polyline points="60.8,180.9 63.4,183.8 66.0,180.9 68.5,183.8 71.1,180.9 73.7,183.8 76.3,180.9"/><polyline points="80.4,180.9 82.9,183.8 85.5,180.9 88.1,183.8 90.7,180.9 93.3,183.8 95.9,180.9 98.4,183.8 101.0,180.9 103.6,183.8 106.2,180.9 108.8,183.8 111.4,180.9 114.0,183.8"/><polyline points="118.0,180.9 120.5,183.8 123.0,180.9 125.5,183.8 128.1,180.9 130.6,183.8 133.1,180.9 135.6,183.8 138.1,180.9 140.6,183.8 143.1,180.9 145.6,183.8 148.1,180.9 150.6,183.8 153.1,180.9 155.6,183.8 158.2,180.9 160.7,183.8 163.2,180.9 165.7,183.8 168.2,180.9 170.7,183.8"/><polyline points="174.8,180.9 177.3,183.8 179.8,180.9 182.3,183.8 184.9,180.9 187.4,183.8 189.9,180.9 192.4,183.8 195.0,180.9 197.5,183.8 200.0,180.9 202.6,183.8 205.1,180.9 207.6,183.8 210.1,180.9 212.7,183.8 215.2,180.9 217.7,183.8 220.2,180.9 222.8,183.8 225.3,180.9 227.8,183.8 230.3,180.9 232.9,183.8 235.4,180.9 237.9,183.8 240.4,180.9 243.0,183.8 245.5,180.9 248.0,183.8 250.5,180.9 253.1,183.8 255.6,180.9 258.1,183.8 260.6,180.9 263.2,183.8 265.7,180.9 268.2,183.8 270.7,180.9 273.3,183.8 275.8,180.9 278.3,183.8"/><polyline points="282.4,180.9 284.9,183.8 287.4,180.9 289.9,183.8 292.4,180.9 295.0,183.8 297.5,180.9 300.0,183.8 302.5,180.9 305.0,183.8 307.5,180.9 310.1,183.8 312.6,180.9 315.1,183.8 317.6,180.9 320.1,183.8 322.6,180.9 325.1,183.8 327.7,180.9 330.2,183.8 332.7,180.9 335.2,183.8 337.7,180.9 340.2,183.8 342.7,180.9 345.3,183.8 347.8,180.9"/><polyline points="5.0,202.9 7.5,205.8 9.9,202.9 12.4,205.8 14.8,202.9 17.3,205.8 19.7,202.9 22.2,205.8 24.6,202.9 27.1,205.8 29.6,202.9 32.0,205.8 34.5,202.9 36.9,205.8 39.4,202.9 41.8,205.8 44.3,202.9 46.8,205.8 49.2,202.9 51.7,205.8 54.1,202.9 56.6,205.8"/><polyline points="60.6,202.9 63.2,205.8 65.8,202.9 68.3,205.8 70.9,202.9 73.5,205.8 76.0,202.9"/><polyline points="80.1,202.9 82.7,205.8 85.3,202.9 87.8,205.8 90.4,202.9 93.0,205.8 95.6,202.9 98.1,205.8 100.7,202.9 103.3,205.8 105.9,202.9 108.4,205.8 111.0,202.9 113.6,205.8"/><polyline points="117.7,202.9 120.2,205.8 122.7,202.9 125.2,205.8 127.7,202.9 130.2,205.8 132.7,202.9 135.2,205.8 137.7,202.9 140.2,205.8 142.7,202.9 145.2,205.8 147.7,202.9 150.2,205.8 152.7,202.9 155.2,205.8 157.7,202.9 160.2,205.8 162.7,202.9 165.2,205.8 167.7,202.9 170.2,205.8"/><polyline points="174.2,202.9 176.7,205.8 179.2,202.9 181.7,205.8 184.2,202.9 186.7,205.8 189.2,202.9 191.7,205.8 194.2,202.9 196.7,205.8 199.2,202.9 201.7,205.8 204.2,202.9 206.7,205.8 209.2,202.9 211.7,205.8 214.2,202.9 216.6,205.8 219.1,202.9 221.6,205.8 224.1,202.9 226.6,205.8 229.1,202.9 231.6,205.8 234.1,202.9 236.6,205.8 239.1,202.9 241.6,205.8 244.1,202.9 246.6,205.8 249.1,202.9 251.6,205.8 254.1,202.9 256.6,205.8"/><polyline points="260.6,202.9 263.2,205.8 265.7,202.9 268.2,205.8 270.7,202.9 273.2,205.8 275.7,202.9 278.2,205.8 280.8,202.9 283.3,205.8 285.8,202.9 288.3,205.8 290.8,202.9 293.3,205.8 295.8,202.9 298.4,205.8 300.9,202.9 303.4,205.8 305.9,202.9"/><polyline points="310.0,202.9 312.5,205.8 315.0,202.9 317.5,205.8 320.0,202.9 322.5,205.8 325.0,202.9 327.5,205.8 330.0,202.9 332.5,205.8 335.1,202.9 337.6,205.8 340.1,202.9 342.6,205.8 345.1,202.9 347.6,205.8 350.1,202.9 352.6,205.8 355.1,202.9 357.6,205.8 360.2,202.9 362.7,205.8 365.2,202.9"/><polyline points="5.0,224.9 7.5,227.8 10.0,224.9 12.5,227.8 15.0,224.9 17.5,227.8 20.1,224.9 22.6,227.8 25.1,224.9 27.6,227.8 30.1,224.9 32.6,227.8 35.1,224.9 37.6,227.8 40.1,224.9 42.6,227.8 45.1,224.9 47.6,227.8 50.2,224.9 52.7,227.8 55.2,224.9 57.7,227.8 60.2,224.9 62.7,227.8 65.2,224.9 67.7,227.8 70.2,224.9 72.7,227.8 75.2,224.9 77.8,227.8 80.3,224.9"/><polyline points="84.3,224.9 86.9,227.8 89.4,224.9 92.0,227.8 94.5,224.9 97.1,227.8 99.6,224.9 102.2,227.8 104.7,224.9 107.3,227.8 109.8,224.9 112.4,227.8 114.9,224.9 117.5,227.8 120.0,224.9 122.6,227.8 125.1,224.9 127.7,227.8 130.2,224.9 132.8,227.8 135.3,224.9 137.9,227.8"/><polyline points="141.9,224.9 144.5,227.8 147.0,224.9 149.5,227.8 152.0,224.9 154.5,227.8 157.0,224.9 159.5,227.8 162.1,224.9 164.6,227.8 167.1,224.9 169.6,227.8 172.1,224.9 174.6,227.8 177.1,224.9 179.7,227.8 182.2,224.9 184.7,227.8 187.2,224.9 189.7,227.8 192.2,224.9 194.7,227.8 197.2,224.9"/><polyline points="21.6,246.9 24.2,249.8 26.7,246.9 29.2,249.8 31.8,246.9 34.3,249.8 36.8,246.9 39.3,249.8 41.9,246.9 44.4,249.8 46.9,246.9 49.4,249.8 52.0,246.9 54.5,249.8 57.0,246.9 59.5,249.8 62.1,246.9 64.6,249.8 67.1,246.9 69.6,249.8 72.2,246.9"/><polyline points="76.2,246.9 78.7,249.8 81.2,246.9 83.6,249.8 86.1,246.9 88.6,249.8 91.1,246.9 93.6,249.8 96.0,246.9 98.5,249.8 101.0,246.9 103.5,249.8 106.0,246.9 108.4,249.8 110.9,246.9 113.4,249.8 115.9,246.9 118.4,249.8 120.8,246.9 123.3,249.8 125.8,246.9 128.3,249.8 130.8,246.9 133.2,249.8 135.7,246.9"/><polyline points="22.6,268.9 25.1,271.8 27.5,268.9 30.0,271.8 32.4,268.9 34.9,271.8 37.3,268.9 39.8,271.8 42.2,268.9 44.7,271.8 47.1,268.9 49.6,271.8 52.0,268.9 54.5,271.8 56.9,268.9 59.4,271.8 61.8,268.9 64.3,271.8"/><polyline points="68.3,268.9 70.8,271.8 73.3,268.9 75.8,271.8 78.3,268.9 80.8,271.8 83.3,268.9 85.8,271.8 88.2,268.9 90.7,271.8 93.2,268.9 95.7,271.8 98.2,268.9 100.7,271.8 103.2,268.9 105.7,271.8 108.2,268.9 110.6,271.8 113.1,268.9 115.6,271.8 118.1,268.9 120.6,271.8 123.1,268.9 125.6,271.8 128.1,268.9"/><polyline points="21.7,290.9 24.2,293.8 26.6,290.9 29.1,293.8 31.5,290.9 34.0,293.8 36.5,290.9 38.9,293.8 41.4,290.9 43.8,293.8 46.3,290.9 48.8,293.8 51.2,290.9 53.7,293.8 56.1,290.9 58.6,293.8 61.1,290.9 63.5,293.8 66.0,290.9 68.4,293.8 70.9,290.9 73.4,293.8 75.8,290.9 78.3,293.8 80.7,290.9 83.2,293.8"/><polyline points="87.3,290.9 89.7,293.8 92.2,290.9 94.7,293.8 97.2,290.9 99.7,293.8 102.2,290.9 104.7,293.8 107.2,290.9 109.6,293.8 112.1,290.9 114.6,293.8 117.1,290.9 119.6,293.8 122.1,290.9 124.6,293.8 127.0,290.9"/><polyline points="131.1,290.9 133.6,293.8 136.1,290.9 138.6,293.8 141.0,290.9 143.5,293.8 146.0,290.9 148.5,293.8 151.0,290.9 153.5,293.8 156.0,290.9 158.4,293.8 160.9,290.9 163.4,293.8 165.9,290.9 168.4,293.8 170.9,290.9 173.4,293.8 175.9,290.9 178.3,293.8 180.8,290.9 183.3,293.8 185.8,290.9 188.3,293.8 190.8,290.9"/><polyline points="22.9,312.9 25.4,315.8 27.8,312.9 30.2,315.8 32.7,312.9 35.1,315.8 37.5,312.9 40.0,315.8 42.4,312.9 44.8,315.8 47.3,312.9 49.7,315.8 52.1,312.9 54.6,315.8 57.0,312.9"/><polyline points="61.1,312.9 63.7,315.8 66.2,312.9 68.8,315.8 71.3,312.9 73.9,315.8 76.4,312.9 79.0,315.8 81.5,312.9 84.1,315.8 86.6,312.9 89.2,315.8 91.8,312.9 94.3,315.8 96.9,312.9 99.4,315.8 102.0,312.9 104.5,315.8 107.1,312.9 109.6,315.8 112.2,312.9 114.7,315.8 117.3,312.9"/><polyline points="10.4,334.9 13.0,337.8 15.5,334.9 18.0,337.8 20.5,334.9 23.0,337.8 25.5,334.9 28.0,337.8 30.5,334.9 33.0,337.8 35.5,334.9 38.0,337.8 40.5,334.9 43.0,337.8 45.5,334.9 48.1,337.8 50.6,334.9 53.1,337.8 55.6,334.9 58.1,337.8 60.6,334.9 63.1,337.8 65.6,334.9 68.1,337.8 70.6,334.9"/><polyline points="74.7,334.9 77.2,337.8 79.7,334.9 82.2,337.8 84.7,334.9 87.3,337.8 89.8,334.9 92.3,337.8 94.8,334.9 97.3,337.8 99.8,334.9 102.3,337.8 104.8,334.9 107.3,337.8 109.8,334.9 112.3,337.8 114.8,334.9 117.3,337.8 119.8,334.9 122.3,337.8 124.8,334.9"/><polyline points="128.9,334.9 131.4,337.8 133.8,334.9 136.3,337.8 138.7,334.9 141.2,337.8 143.6,334.9 146.1,337.8 148.5,334.9 151.0,337.8 153.4,334.9 155.9,337.8 158.4,334.9 160.8,337.8"/><polyline points="164.9,334.9 167.4,337.8 170.0,334.9 172.5,337.8 175.1,334.9 177.6,337.8 180.2,334.9 182.7,337.8 185.2,334.9 187.8,337.8 190.3,334.9 192.9,337.8 195.4,334.9 198.0,337.8 200.5,334.9 203.0,337.8 205.6,334.9 208.1,337.8 210.7,334.9 213.2,337.8 215.8,334.9 218.3,337.8 220.9,334.9 223.4,337.8 225.9,334.9"/><polyline points="230.0,334.9 232.5,337.8 235.0,334.9 237.4,337.8 239.9,334.9 242.4,337.8 244.8,334.9 247.3,337.8 249.8,334.9 252.2,337.8 254.7,334.9 257.2,337.8 259.6,334.9 262.1,337.8 264.6,334.9 267.1,337.8 269.5,334.9 272.0,337.8 274.5,334.9 276.9,337.8 279.4,334.9 281.9,337.8 284.3,334.9 286.8,337.8 289.3,334.9"/><polyline points="293.4,334.9 295.8,337.8 298.3,334.9 300.8,337.8 303.3,334.9 305.8,337.8 308.2,334.9 310.7,337.8 313.2,334.9 315.7,337.8 318.2,334.9 320.6,337.8 323.1,334.9 325.6,337.8 328.1,334.9 330.6,337.8 333.0,334.9 335.5,337.8 338.0,334.9"/><polyline points="5.0,356.9 7.5,359.8 10.0,356.9 12.4,359.8 14.9,356.9 17.4,359.8 19.9,356.9 22.3,359.8 24.8,356.9 27.3,359.8 29.8,356.9 32.2,359.8 34.7,356.9 37.2,359.8 39.7,356.9 42.1,359.8 44.6,356.9 47.1,359.8 49.6,356.9 52.1,359.8 54.5,356.9 57.0,359.8 59.5,356.9 62.0,359.8 64.4,356.9 66.9,359.8 69.4,356.9 71.9,359.8 74.3,356.9 76.8,359.8 79.3,356.9"/><polyline points="83.3,356.9 85.8,359.8 88.4,356.9 90.9,359.8 93.4,356.9 95.9,359.8 98.4,356.9 100.9,359.8 103.5,356.9 106.0,359.8 108.5,356.9 111.0,359.8 113.5,356.9 116.0,359.8 118.6,356.9 121.1,359.8 123.6,356.9 126.1,359.8 128.6,356.9 131.1,359.8 133.7,356.9 136.2,359.8"/><polyline points="140.2,356.9 142.7,359.8 145.2,356.9 147.6,359.8 150.1,356.9 152.6,359.8 155.1,356.9 157.6,359.8 160.0,356.9 162.5,359.8 165.0,356.9 167.5,359.8 170.0,356.9 172.5,359.8 174.9,356.9 177.4,359.8 179.9,356.9 182.4,359.8 184.9,356.9 187.4,359.8 189.8,356.9 192.3,359.8 194.8,356.9"/><polyline points="204.2,356.9 206.7,359.8 209.3,356.9 211.8,359.8 214.3,356.9 216.9,359.8 219.4,356.9 222.0,359.8 224.5,356.9 227.0,359.8 229.6,356.9 232.1,359.8 234.7,356.9"/><polyline points="5.0,400.9 7.5,403.8 10.0,400.9 12.4,403.8 14.9,400.9 17.4,403.8 19.9,400.9 22.3,403.8 24.8,400.9 27.3,403.8 29.8,400.9 32.2,403.8 34.7,400.9 37.2,403.8 39.7,400.9 42.1,403.8 44.6,400.9 47.1,403.8 49.6,400.9 52.0,403.8 54.5,400.9 57.0,403.8 59.5,400.9 61.9,403.8 64.4,400.9 66.9,403.8 69.4,400.9 71.8,403.8 74.3,400.9 76.8,403.8 79.3,400.9 81.7,403.8 84.2,400.9 86.7,403.8 89.2,400.9"/><polyline points="93.3,400.9 95.8,403.8 98.3,400.9 100.8,403.8 103.3,400.9 105.9,403.8 108.4,400.9 110.9,403.8 113.4,400.9 115.9,403.8 118.4,400.9 121.0,403.8 123.5,400.9 126.0,403.8 128.5,400.9 131.0,403.8 133.5,400.9 136.1,403.8 138.6,400.9 141.1,403.8 143.6,400.9"/><polyline points="5.0,422.9 7.5,425.8 10.0,422.9 12.4,425.8 14.9,422.9 17.4,425.8 19.9,422.9 22.3,425.8 24.8,422.9 27.3,425.8 29.8,422.9 32.3,425.8 34.7,422.9 37.2,425.8 39.7,422.9 42.2,425.8 44.7,422.9 47.1,425.8"/><polyline points="51.2,422.9 53.6,425.8 56.1,422.9 58.5,425.8 60.9,422.9 63.4,425.8 65.8,422.9 68.3,425.8 70.7,422.9 73.2,425.8 75.6,422.9 78.1,425.8 80.5,422.9 83.0,425.8 85.4,422.9 87.9,425.8 90.3,422.9 92.8,425.8 95.2,422.9 97.6,425.8 100.1,422.9 102.5,425.8 105.0,422.9"/><polyline points="109.0,422.9 111.5,425.8 114.1,422.9 116.6,425.8 119.1,422.9 121.7,425.8 124.2,422.9 126.7,425.8 129.3,422.9 131.8,425.8 134.3,422.9 136.8,425.8 139.4,422.9 141.9,425.8"/><polyline points="145.9,422.9 148.4,425.8 150.8,422.9 153.3,425.8 155.7,422.9 158.2,425.8 160.6,422.9 163.1,425.8 165.5,422.9 167.9,425.8 170.4,422.9 172.8,425.8 175.3,422.9 177.7,425.8 180.2,422.9 182.6,425.8 185.1,422.9 187.5,425.8 190.0,422.9 192.4,425.8 194.8,422.9 197.3,425.8 199.7,422.9"/><polyline points="5.0,444.9 7.5,447.8 10.0,444.9 12.5,447.8 15.0,444.9 17.5,447.8 20.0,444.9 22.5,447.8 25.0,444.9 27.5,447.8 30.0,444.9 32.5,447.8 35.0,444.9 37.5,447.8 40.0,444.9 42.4,447.8 44.9,444.9 47.4,447.8 49.9,444.9 52.4,447.8 54.9,444.9 57.4,447.8 59.9,444.9 62.4,447.8 64.9,444.9 67.4,447.8 69.9,444.9 72.4,447.8 74.9,444.9 77.4,447.8 79.9,444.9 82.4,447.8 84.9,444.9 87.4,447.8 89.9,444.9 92.4,447.8 94.9,444.9 97.4,447.8 99.9,444.9 102.4,447.8 104.9,444.9 107.4,447.8 109.8,444.9"/><polyline points="113.9,444.9 116.4,447.8 119.0,444.9 121.5,447.8 124.0,444.9 126.5,447.8 129.0,444.9 131.5,447.8 134.0,444.9 136.5,447.8 139.0,444.9 141.5,447.8 144.0,444.9 146.5,447.8 149.1,444.9 151.6,447.8 154.1,444.9 156.6,447.8 159.1,444.9 161.6,447.8 164.1,444.9"/><polyline points="168.2,444.9 170.8,447.8 173.3,444.9 175.9,447.8 178.5,444.9 181.0,447.8 183.6,444.9 186.2,447.8 188.8,444.9 191.3,447.8 193.9,444.9 196.5,447.8"/><polyline points="200.5,444.9 203.1,447.8 205.6,444.9 208.2,447.8 210.7,444.9 213.2,447.8 215.8,444.9 218.3,447.8 220.9,444.9 223.4,447.8 225.9,444.9 228.5,447.8 231.0,444.9 233.6,447.8 236.1,444.9 238.6,447.8 241.2,444.9 243.7,447.8 246.3,444.9 248.8,447.8 251.3,444.9 253.9,447.8 256.4,444.9 258.9,447.8"/><polyline points="263.0,444.9 265.5,447.8 268.1,444.9 270.6,447.8 273.1,444.9 275.6,447.8 278.1,444.9 280.6,447.8 283.2,444.9 285.7,447.8 288.2,444.9 290.7,447.8 293.2,444.9 295.7,447.8 298.2,444.9 300.8,447.8 303.3,444.9 305.8,447.8 308.3,444.9 310.8,447.8 313.3,444.9 315.9,447.8 318.4,444.9 320.9,447.8 323.4,444.9 325.9,447.8"/><polyline points="330.0,444.9 332.5,447.8 335.0,444.9 337.5,447.8 340.0,444.9 342.4,447.8 344.9,444.9 347.4,447.8 349.9,444.9 352.4,447.8 354.9,444.9 357.3,447.8 359.8,444.9 362.3,447.8 364.8,444.9 367.3,447.8 369.8,444.9 372.3,447.8 374.7,444.9 377.2,447.8 379.7,444.9 382.2,447.8 384.7,444.9 387.2,447.8 389.6,444.9 392.1,447.8 394.6,444.9 397.1,447.8 399.6,444.9 402.1,447.8"/><polyline points="406.2,444.9 408.6,447.8 411.1,444.9 413.5,447.8 416.0,444.9 418.4,447.8 420.9,444.9 423.4,447.8 425.8,444.9 428.3,447.8 430.7,444.9 433.2,447.8 435.6,444.9 438.1,447.8"/><polyline points="442.2,444.9 444.7,447.8 447.1,444.9 449.6,447.8 452.1,444.9 454.5,447.8 457.0,444.9 459.5,447.8 461.9,444.9 464.4,447.8 466.9,444.9 469.4,447.8 471.8,444.9 474.3,447.8 476.8,444.9 479.2,447.8 481.7,444.9 484.2,447.8 486.6,444.9 489.1,447.8 491.6,444.9 494.1,447.8 496.5,444.9 499.0,447.8 501.5,444.9"/><polyline points="505.6,444.9 508.0,447.8 510.5,444.9 513.0,447.8 515.5,444.9 518.0,447.8 520.5,444.9 522.9,447.8 525.4,444.9 527.9,447.8 530.4,444.9 532.9,447.8 535.4,444.9 537.8,447.8 540.3,444.9 542.8,447.8 545.3,444.9 547.8,447.8 550.3,444.9"/><polyline points="5.0,466.9 7.4,469.8 9.8,466.9 12.3,469.8 14.7,466.9 17.1,469.8 19.5,466.9 22.0,469.8 24.4,466.9 26.8,469.8 29.2,466.9 31.6,469.8 34.1,466.9 36.5,469.8 38.9,466.9 41.3,469.8"/><polyline points="45.3,466.9 47.7,469.8 50.2,466.9 52.6,469.8 55.0,466.9 57.5,469.8 59.9,466.9 62.4,469.8 64.8,466.9 67.2,469.8 69.7,466.9 72.1,469.8 74.5,466.9 77.0,469.8 79.4,466.9 81.9,469.8 84.3,466.9 86.7,469.8 89.2,466.9 91.6,469.8 94.0,466.9"/><polyline points="5.0,510.9 7.5,513.8 10.1,510.9 12.6,513.8 15.2,510.9 17.7,513.8 20.2,510.9 22.8,513.8 25.3,510.9 27.9,513.8 30.4,510.9 32.9,513.8 35.5,510.9 38.0,513.8 40.6,510.9 43.1,513.8 45.7,510.9 48.2,513.8 50.7,510.9 53.3,513.8 55.8,510.9 58.4,513.8 60.9,510.9 63.4,513.8 66.0,510.9 68.5,513.8 71.1,510.9 73.6,513.8"/><polyline points="21.5,532.9 23.9,535.8 26.4,532.9 28.8,535.8 31.2,532.9 33.6,535.8 36.1,532.9 38.5,535.8 40.9,532.9 43.3,535.8 45.8,532.9 48.2,535.8 50.6,532.9 53.1,535.8 55.5,532.9"/><polyline points="59.5,532.9 62.0,535.8 64.5,532.9 66.9,535.8 69.4,532.9 71.9,535.8 74.4,532.9 76.9,535.8 79.4,532.9 81.9,535.8 84.4,532.9 86.8,535.8 89.3,532.9 91.8,535.8 94.3,532.9 96.8,535.8 99.3,532.9 101.8,535.8 104.3,532.9 106.7,535.8 109.2,532.9 111.7,535.8 114.2,532.9 116.7,535.8"/><polyline points="120.7,532.9 123.2,535.8 125.6,532.9 128.1,535.8 130.5,532.9 133.0,535.8 135.5,532.9 137.9,535.8 140.4,532.9 142.8,535.8 145.3,532.9 147.7,535.8 150.2,532.9 152.7,535.8 155.1,532.9 157.6,535.8 160.0,532.9 162.5,535.8 164.9,532.9 167.4,535.8 169.9,532.9 172.3,535.8 174.8,532.9 177.2,535.8 179.7,532.9 182.1,535.8 184.6,532.9 187.1,535.8 189.5,532.9"/><polyline points="22.6,554.9 25.1,557.8 27.7,554.9 30.2,557.8 32.7,554.9 35.2,557.8 37.7,554.9 40.2,557.8 42.7,554.9 45.3,557.8 47.8,554.9 50.3,557.8 52.8,554.9 55.3,557.8 57.8,554.9 60.3,557.8 62.9,554.9 65.4,557.8 67.9,554.9"/><polyline points="71.9,554.9 74.5,557.8 77.0,554.9 79.5,557.8 82.0,554.9 84.5,557.8 87.0,554.9 89.6,557.8 92.1,554.9 94.6,557.8 97.1,554.9 99.6,557.8 102.2,554.9 104.7,557.8 107.2,554.9 109.7,557.8 112.2,554.9 114.7,557.8 117.3,554.9 119.8,557.8 122.3,554.9 124.8,557.8 127.3,554.9 129.8,557.8"/><polyline points="133.9,554.9 136.4,557.8 138.9,554.9 141.4,557.8 143.9,554.9 146.3,557.8 148.8,554.9 151.3,557.8 153.8,554.9 156.3,557.8 158.8,554.9 161.3,557.8 163.8,554.9 166.2,557.8 168.7,554.9 171.2,557.8 173.7,554.9 176.2,557.8 178.7,554.9 181.2,557.8 183.7,554.9 186.1,557.8 188.6,554.9 191.1,557.8 193.6,554.9 196.1,557.8 198.6,554.9 201.1,557.8 203.6,554.9"/><polyline points="5.0,576.9 7.5,579.8 9.9,576.9 12.4,579.8 14.9,576.9 17.4,579.8 19.8,576.9 22.3,579.8 24.8,576.9 27.3,579.8 29.7,576.9 32.2,579.8 34.7,576.9 37.2,579.8 39.6,576.9 42.1,579.8 44.6,576.9 47.1,579.8 49.5,576.9 52.0,579.8 54.5,576.9 57.0,579.8 59.4,576.9"/><polyline points="99.3,576.9 101.9,579.8 104.5,576.9 107.0,579.8 109.6,576.9 112.2,579.8 114.8,576.9"/><polyline points="118.8,576.9 121.4,579.8 123.9,576.9 126.5,579.8 129.0,576.9 131.6,579.8 134.1,576.9 136.7,579.8 139.2,576.9 141.8,579.8 144.3,576.9 146.9,579.8 149.4,576.9 152.0,579.8 154.5,576.9 157.1,579.8 159.7,576.9"/><polyline points="163.7,576.9 166.2,579.8 168.7,576.9 171.1,579.8 173.6,576.9 176.0,579.8 178.5,576.9 181.0,579.8 183.4,576.9 185.9,579.8 188.4,576.9 190.8,579.8 193.3,576.9 195.7,579.8 198.2,576.9 200.7,579.8 203.1,576.9 205.6,579.8 208.1,576.9 210.5,579.8 213.0,576.9 215.4,579.8"/><polyline points="219.5,576.9 222.1,579.8 224.6,576.9 227.2,579.8 229.7,576.9 232.3,579.8 234.8,576.9 237.3,579.8 239.9,576.9 242.4,579.8 245.0,576.9 247.5,579.8 250.1,576.9 252.6,579.8 255.2,576.9 257.7,579.8 260.3,576.9 262.8,579.8 265.4,576.9 267.9,579.8 270.5,576.9 273.0,579.8 275.6,576.9 278.1,579.8 280.7,576.9 283.2,579.8 285.8,576.9"/><polyline points="289.8,576.9 292.4,579.8 294.9,576.9 297.5,579.8 300.0,576.9 302.6,579.8 305.1,576.9 307.7,579.8 310.2,576.9 312.8,579.8 315.3,576.9 317.9,579.8 320.4,576.9 322.9,579.8 325.5,576.9 328.0,579.8 330.6,576.9 333.1,579.8 335.7,576.9 338.2,579.8 340.8,576.9 343.3,579.8 345.9,576.9 348.4,579.8 351.0,576.9 353.5,579.8 356.1,576.9"/><polyline points="5.0,598.9 7.5,601.8 9.9,598.9 12.4,601.8 14.8,598.9 17.3,601.8 19.7,598.9 22.2,601.8 24.6,598.9 27.1,601.8 29.5,598.9 32.0,601.8 34.5,598.9 36.9,601.8 39.4,598.9 41.8,601.8 44.3,598.9 46.7,601.8"/><polyline points="50.8,598.9 53.3,601.8 55.7,598.9 58.2,601.8 60.6,598.9 63.1,601.8 65.6,598.9 68.0,601.8 70.5,598.9 73.0,601.8 75.4,598.9 77.9,601.8 80.3,598.9 82.8,601.8 85.3,598.9 87.7,601.8 90.2,598.9 92.7,601.8 95.1,598.9 97.6,601.8 100.0,598.9 102.5,601.8 105.0,598.9 107.4,601.8 109.9,598.9 112.4,601.8 114.8,598.9 117.3,601.8 119.8,598.9"/><polyline points="123.8,598.9 126.4,601.8 129.0,598.9 131.5,601.8 134.1,598.9 136.7,601.8 139.2,598.9"/><polyline points="143.3,598.9 145.9,601.8 148.5,598.9 151.1,601.8 153.6,598.9 156.2,601.8 158.8,598.9 161.4,601.8 164.0,598.9 166.5,601.8 169.1,598.9 171.7,601.8 174.3,598.9 176.9,601.8"/><polyline points="180.9,598.9 183.4,601.8 186.0,598.9 188.5,601.8 191.0,598.9 193.5,601.8 196.0,598.9 198.5,601.8 201.0,598.9 203.5,601.8 206.0,598.9 208.5,601.8 211.0,598.9 213.5,601.8 216.0,598.9 218.5,601.8 221.0,598.9 223.5,601.8 226.1,598.9 228.6,601.8 231.1,598.9 233.6,601.8"/><polyline points="237.6,598.9 240.1,601.8 242.6,598.9 245.1,601.8 247.6,598.9 250.1,601.8 252.6,598.9 255.0,601.8 257.5,598.9 260.0,601.8 262.5,598.9 265.0,601.8 267.5,598.9 270.0,601.8 272.5,598.9 274.9,601.8 277.4,598.9 279.9,601.8 282.4,598.9 284.9,601.8 287.4,598.9 289.9,601.8 292.4,598.9 294.8,601.8 297.3,598.9 299.8,601.8 302.3,598.9 304.8,601.8"/><polyline points="308.9,598.9 311.4,601.8 313.9,598.9 316.5,601.8 319.0,598.9 321.6,601.8 324.1,598.9 326.7,601.8 329.2,598.9 331.8,601.8 334.3,598.9 336.9,601.8 339.4,598.9 342.0,601.8 344.5,598.9 347.1,601.8 349.6,598.9 352.2,601.8 354.7,598.9 357.3,601.8 359.8,598.9 362.4,601.8 364.9,598.9 367.5,601.8 370.0,598.9 372.6,601.8 375.1,598.9"/><polyline points="379.2,598.9 381.7,601.8 384.3,598.9 386.8,601.8 389.3,598.9 391.9,601.8 394.4,598.9 397.0,601.8 399.5,598.9 402.1,601.8 404.6,598.9 407.2,601.8 409.7,598.9 412.3,601.8 414.8,598.9 417.4,601.8 419.9,598.9 422.5,601.8 425.0,598.9 427.6,601.8 430.1,598.9 432.7,601.8 435.2,598.9 437.7,601.8 440.3,598.9 442.8,601.8 445.4,598.9"/><polyline points="5.0,620.9 7.6,623.8 10.2,620.9 12.8,623.8 15.4,620.9 18.0,623.8 20.6,620.9 23.2,623.8 25.8,620.9 28.3,623.8 30.9,620.9 33.5,623.8 36.1,620.9"/><polyline points="40.1,620.9 42.7,623.8 45.2,620.9 47.7,623.8 50.3,620.9 52.8,623.8 55.4,620.9 57.9,623.8 60.4,620.9 63.0,623.8 65.5,620.9 68.1,623.8 70.6,620.9 73.2,623.8 75.7,620.9 78.2,623.8 80.8,620.9 83.3,623.8 85.9,620.9 88.4,623.8 90.9,620.9 93.5,623.8"/><polyline points="97.5,620.9 100.0,623.8 102.6,620.9 105.1,623.8 107.7,620.9 110.2,623.8 112.7,620.9 115.3,623.8 117.8,620.9 120.4,623.8 122.9,620.9 125.5,623.8 128.0,620.9 130.6,623.8 133.1,620.9 135.7,623.8 138.2,620.9 140.8,623.8 143.3,620.9 145.8,623.8 148.4,620.9 150.9,623.8 153.5,620.9"/><polyline points="5.0,642.9 7.6,645.8 10.1,642.9 12.7,645.8 15.2,642.9 17.8,645.8 20.3,642.9 22.9,645.8 25.4,642.9 28.0,645.8 30.5,642.9 33.1,645.8"/><polyline points="37.1,642.9 39.7,645.8 42.3,642.9 44.8,645.8 47.4,642.9 49.9,645.8 52.5,642.9 55.0,645.8 57.6,642.9 60.2,645.8 62.7,642.9 65.3,645.8 67.8,642.9 70.4,645.8"/><polyline points="74.4,642.9 77.0,645.8 79.5,642.9 82.0,645.8 84.5,642.9 87.1,645.8 89.6,642.9 92.1,645.8 94.6,642.9 97.2,645.8 99.7,642.9 102.2,645.8 104.7,642.9 107.3,645.8 109.8,642.9 112.3,645.8 114.8,642.9 117.4,645.8 119.9,642.9 122.4,645.8 124.9,642.9 127.5,645.8 130.0,642.9 132.5,645.8 135.0,642.9 137.6,645.8 140.1,642.9 142.6,645.8 145.1,642.9"/><polyline points="5.0,664.9 7.5,667.8 10.0,664.9 12.5,667.8 15.0,664.9 17.5,667.8 19.9,664.9 22.4,667.8 24.9,664.9 27.4,667.8 29.9,664.9 32.4,667.8 34.9,664.9 37.4,667.8 39.9,664.9 42.4,667.8 44.9,664.9 47.4,667.8"/><polyline points="51.4,664.9 53.9,667.8 56.3,664.9 58.8,667.8 61.2,664.9 63.7,667.8 66.2,664.9 68.6,667.8 71.1,664.9 73.5,667.8 76.0,664.9 78.5,667.8 80.9,664.9 83.4,667.8 85.8,664.9 88.3,667.8 90.8,664.9 93.2,667.8 95.7,664.9 98.1,667.8 100.6,664.9 103.1,667.8 105.5,664.9"/><polyline points="109.6,664.9 112.1,667.8 114.6,664.9 117.2,667.8 119.7,664.9 122.3,667.8 124.8,664.9 127.4,667.8 129.9,664.9 132.4,667.8 135.0,664.9 137.5,667.8 140.1,664.9 142.6,667.8"/><polyline points="146.7,664.9 149.2,667.8 151.7,664.9 154.3,667.8 156.8,664.9 159.3,667.8 161.9,664.9 164.4,667.8 166.9,664.9 169.5,667.8 172.0,664.9 174.5,667.8 177.1,664.9 179.6,667.8 182.1,664.9 184.7,667.8 187.2,664.9 189.7,667.8 192.3,664.9 194.8,667.8 197.3,664.9 199.9,667.8"/><polyline points="5.0,686.9 7.5,689.8 10.0,686.9 12.6,689.8 15.1,686.9 17.6,689.8 20.1,686.9 22.7,689.8 25.2,686.9 27.7,689.8 30.2,686.9 32.7,689.8 35.3,686.9 37.8,689.8 40.3,686.9 42.8,689.8 45.4,686.9 47.9,689.8 50.4,686.9 52.9,689.8 55.4,686.9 58.0,689.8 60.5,686.9 63.0,689.8 65.5,686.9 68.1,689.8 70.6,686.9 73.1,689.8 75.6,686.9 78.1,689.8 80.7,686.9 83.2,689.8 85.7,686.9 88.2,689.8 90.8,686.9 93.3,689.8 95.8,686.9 98.3,689.8"/><polyline points="102.4,686.9 104.8,689.8 107.2,686.9 109.6,689.8 112.0,686.9 114.5,689.8 116.9,686.9 119.3,689.8 121.7,686.9 124.1,689.8 126.5,686.9 129.0,689.8 131.4,686.9"/><polyline points="135.4,686.9 138.0,689.8 140.5,686.9 143.0,689.8 145.5,686.9 148.1,689.8 150.6,686.9 153.1,689.8 155.6,686.9 158.2,689.8 160.7,686.9 163.2,689.8 165.7,686.9 168.3,689.8 170.8,686.9 173.3,689.8 175.8,686.9 178.4,689.8 180.9,686.9 183.4,689.8 185.9,686.9 188.4,689.8 191.0,686.9 193.5,689.8 196.0,686.9 198.5,689.8 201.1,686.9 203.6,689.8 206.1,686.9"/><polyline points="5.0,708.9 7.5,711.8 10.0,708.9 12.4,711.8 14.9,708.9 17.4,711.8 19.9,708.9 22.3,711.8 24.8,708.9 27.3,711.8 29.8,708.9 32.2,711.8 34.7,708.9 37.2,711.8 39.7,708.9 42.1,711.8"/><polyline points="46.2,708.9 48.7,711.8 51.3,708.9 53.8,711.8 56.4,708.9 58.9,711.8 61.5,708.9 64.0,711.8 66.5,708.9 69.1,711.8 71.6,708.9 74.2,711.8 76.7,708.9 79.3,711.8 81.8,708.9 84.3,711.8 86.9,708.9 89.4,711.8 92.0,708.9 94.5,711.8 97.1,708.9 99.6,711.8 102.1,708.9 104.7,711.8 107.2,708.9 109.8,711.8 112.3,708.9"/></g></svg>
</body></html>
